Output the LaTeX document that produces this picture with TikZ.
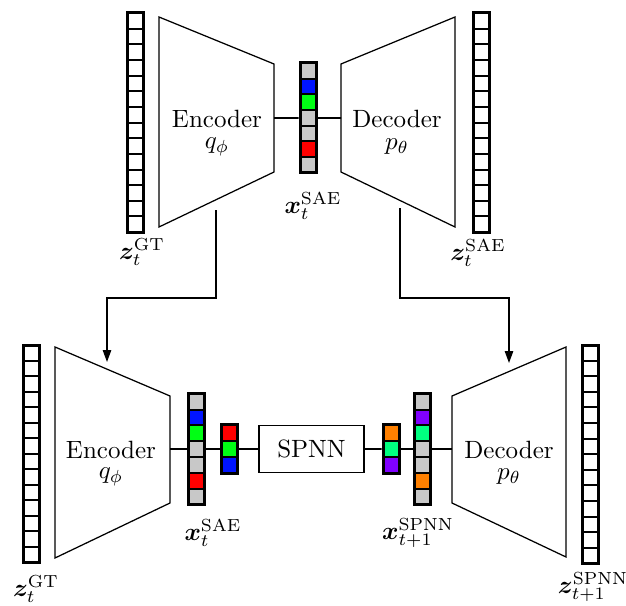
\documentclass[tikz,border=0pt]{standalone}
\usepackage{bm}
\usetikzlibrary{arrows.meta,fit}

\definecolor{cellgray}{RGB}{200,200,200}
\definecolor{cellblue}{RGB}{0,20,255}
\definecolor{cellgreen}{RGB}{0,255,20}
\definecolor{cellred}{RGB}{255,0,0}
\definecolor{cellorange}{RGB}{255,128,0}
\definecolor{cellspring}{RGB}{0,255,128}
\definecolor{cellviolet}{RGB}{128,0,255}

\tikzset{
  cellline/.style={line width=0.8pt},
  barframe/.style={draw, line width=1.2pt, inner sep=0pt},
  trap/.style={draw, line width=0.5pt, line join=miter},
  link/.style={line width=0.7pt},
  flow/.style={line width=0.5pt, -{Triangle[length=4.8pt,width=3.4pt]}},
  lbl/.style={font=\fontsize{10}{12}\selectfont, inner sep=0pt},
  boxed/.style={draw, line width=0.5pt, inner sep=0pt,
    minimum width=42pt, minimum height=19pt, font=\fontsize{10}{12}\selectfont},
}

% a column of cells: name, left x, top y, cell height, fills from top to bottom
\newcommand{\cellbar}[5]{%
  \foreach \c [count=\i] in {#5} {
    \draw[cellline, fill=\c] (#2, #3+\i*#4-#4) rectangle (#2+16, #3+\i*#4);
    \xdef\cellcount{\i}
  }
  \node[barframe, fit={(#2,#3) (#2+16,#3+\cellcount*#4)}] (#1) {};
}

\begin{document}
\begin{tikzpicture}[x=0.4pt, y=-0.4pt]
\useasboundingbox (0,0) rectangle (626,606);

% ---------- upper row: autoencoder ----------
\cellbar{zgtA}{127}{13}{15.65}{white,white,white,white,white,white,white,white,white,white,white,white,white,white}
\draw[trap] (159,17) -- (274,64) -- (274,172) -- (159,227) -- cycle;
\coordinate (encAout) at (274,118);
\coordinate (encAfoot) at (216,210);
\node[lbl] (encAname) at (217,119) {Encoder};
\node[lbl] (encAsym) at (217,147) {$q_\phi$};

\cellbar{xsaeA}{300}{63}{15.7}{cellgray,cellblue,cellgreen,cellgray,cellgray,cellred,cellgray}

\draw[trap] (341,64) -- (455,17) -- (455,227) -- (341,172) -- cycle;
\coordinate (decAin) at (341,118);
\coordinate (decAfoot) at (400,208);
\node[lbl] (decAname) at (397,119) {Decoder};
\node[lbl] (decAsym) at (397,147) {$p_\theta$};

\cellbar{zsaeA}{473}{13}{15.65}{white,white,white,white,white,white,white,white,white,white,white,white,white,white}

\draw[link] (encAout) -- (xsaeA.west);
\draw[link] (xsaeA.east) -- (decAin);

\node[lbl] (zgtAlbl) at (142,252) {$\bm{z}_t^{\mathrm{GT}}$};
\node[lbl] (xsaeAlbl) at (313,206) {$\bm{x}_t^{\mathrm{SAE}}$};
\node[lbl] (zsaeAlbl) at (478,253) {$\bm{z}_t^{\mathrm{SAE}}$};

% ---------- lower row: prediction in latent space ----------
\cellbar{zgtB}{23}{345}{15.5}{white,white,white,white,white,white,white,white,white,white,white,white,white,white}
\draw[trap] (55,347) -- (170,396) -- (170,503) -- (55,558) -- cycle;
\coordinate (encBout) at (170,449);
\coordinate (encBhead) at (107,362);
\node[lbl] (encBname) at (111,450) {Encoder};
\node[lbl] (encBsym) at (111,477) {$q_\phi$};

\cellbar{xsaeB}{188}{393.7}{15.8}{cellgray,cellblue,cellgreen,cellgray,cellgray,cellred,cellgray}
\cellbar{redB}{221.5}{424.5}{16.3}{cellred,cellgreen,cellblue}

\node[boxed] (spnn) at (311.5,449) {SPNN};

\cellbar{redC}{383}{424.5}{16.3}{cellorange,cellspring,cellviolet}
\cellbar{xspnnB}{414.5}{393.7}{15.8}{cellgray,cellviolet,cellspring,cellgray,cellgray,cellorange,cellgray}

\draw[trap] (452,396) -- (566,347) -- (566,557) -- (452,503) -- cycle;
\coordinate (decBin) at (452,449);
\coordinate (decBhead) at (509,363);
\node[lbl] (decBname) at (509,450) {Decoder};
\node[lbl] (decBsym) at (509,477) {$p_\theta$};

\cellbar{zspnnB}{582}{345}{15.6}{white,white,white,white,white,white,white,white,white,white,white,white,white,white}

\draw[link] (encBout) -- (xsaeB.west);
\draw[link] (xsaeB.east) -- (redB.west);
\draw[link] (redB.east) -- (spnn.west);
\draw[link] (spnn.east) -- (redC.west);
\draw[link] (redC.east) -- (xspnnB.west);
\draw[link] (xspnnB.east) -- (decBin);

\node[lbl] (xsaeBlbl) at (213,533) {$\bm{x}_t^{\mathrm{SAE}}$};
\node[lbl] (xspnnBlbl) at (418,533) {$\bm{x}_{t+1}^{\mathrm{SPNN}}$};
\node[lbl] (zgtBlbl) at (36,589) {$\bm{z}_t^{\mathrm{GT}}$};
\node[lbl] (zspnnBlbl) at (593,587) {$\bm{z}_{t+1}^{\mathrm{SPNN}}$};

% ---------- shared weights between the rows ----------
\draw[flow] (encAfoot) -- ++(0,88) -| (encBhead);
\draw[flow] (decAfoot) -- ++(0,90) -| (decBhead);
\end{tikzpicture}
\end{document}
